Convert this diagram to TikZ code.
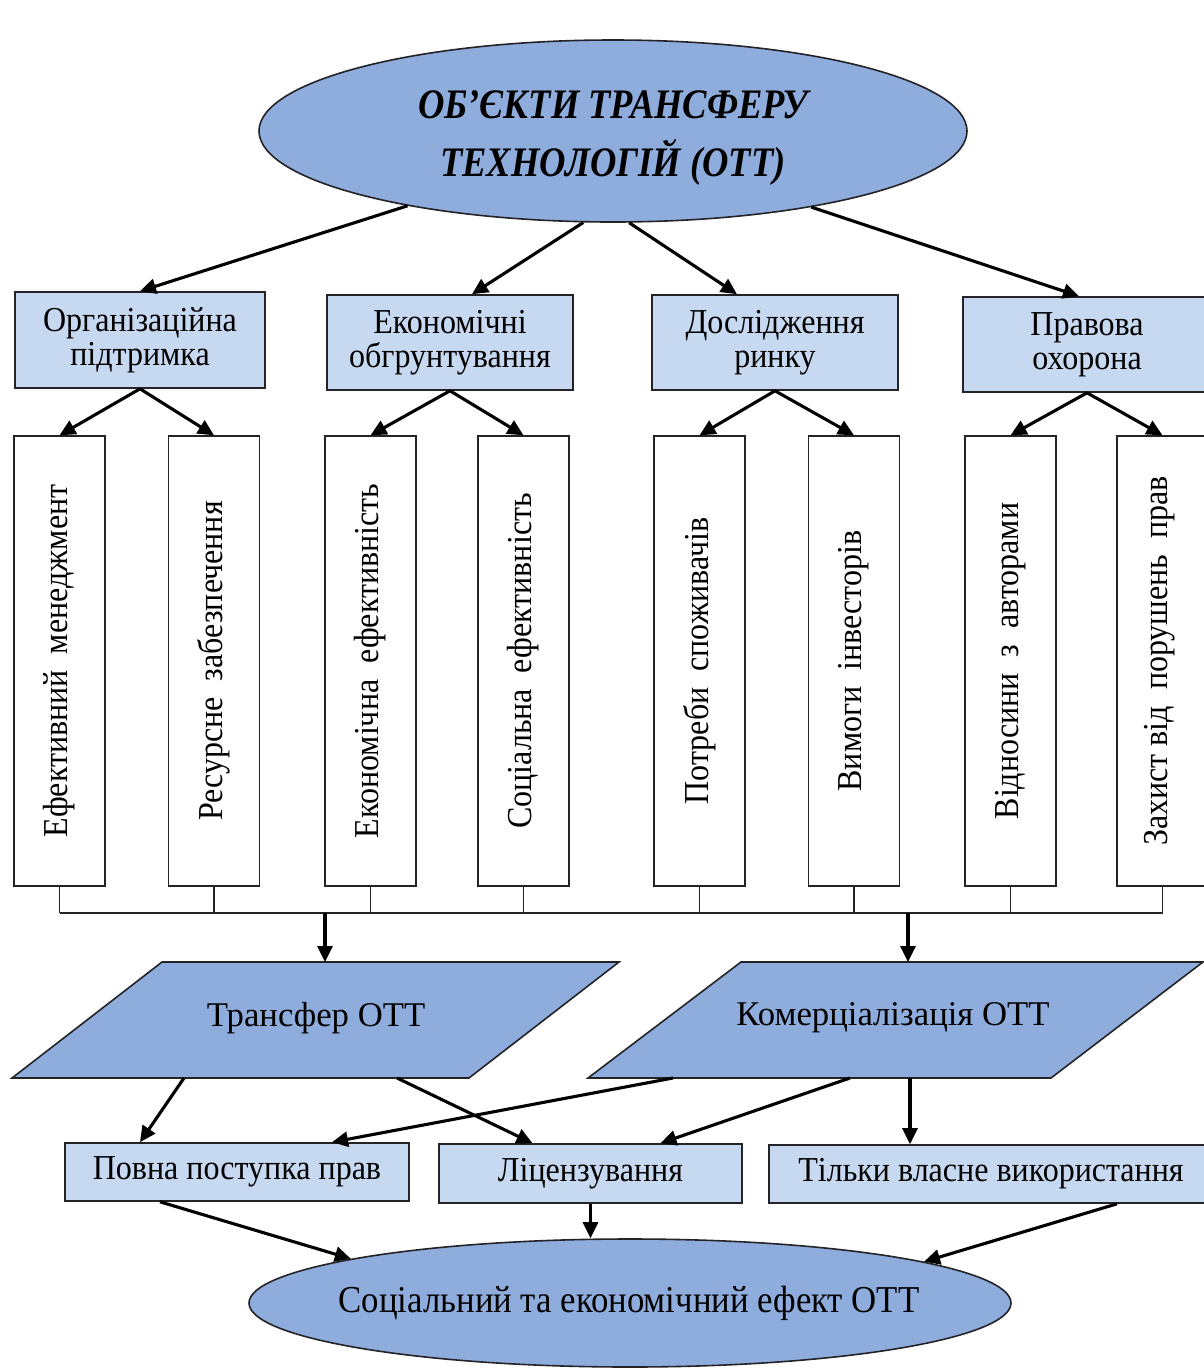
\documentclass[tikz,border=0pt]{standalone}
\usepackage{fontspec}
\setmainfont{Liberation Serif}
\newfontfamily\bodyf[FakeStretch=0.915]{Liberation Serif}
\newfontfamily\titlefont[FakeStretch=0.87]{Liberation Serif}
\usetikzlibrary{arrows.meta,shapes.geometric,calc}
\definecolor{ellblue}{RGB}{142,172,220}
\definecolor{boxblue}{RGB}{198,217,240}
\definecolor{edge}{RGB}{35,35,40}
\begin{document}
\begin{tikzpicture}[x=1pt,y=-1pt,
  every node/.style={font=\bodyf\fontsize{35}{34}\selectfont, text=black},
  ell/.style={ellipse, draw=edge, line width=1.6pt, fill=ellblue, inner sep=0pt},
  topbox/.style={rectangle, draw=edge, line width=1.6pt, fill=boxblue, align=center, inner sep=0pt},
  vbox/.style={rectangle, draw=edge, line width=1.4pt, fill=white, minimum width=91pt, minimum height=450pt, inner sep=0pt},
  vtxt/.style={rotate=90},
  paratxt/.style={font=\rmfamily\fontsize{34.7}{36}\selectfont},
  bottxt/.style={font=\bodyf\fontsize{38}{40}\selectfont},
  para/.style={draw=edge, line width=1.6pt, fill=ellblue, line join=miter},
  arr/.style={-{Triangle[length=16pt,width=15pt]}, line width=3.1pt, draw=black},
  bus/.style={line width=1.3pt, draw=edge},
]
\useasboundingbox (0,0) rectangle (1203,1369);
\fill[white] (0,0) rectangle (1203,1369);

% top ellipse
\node[ell, minimum width=708pt, minimum height=182pt] (top) at (613,131) {};
\node[font=\titlefont\bfseries\itshape\fontsize{42}{58}\selectfont, align=center] (ttl) at (613,138)
  {ОБ’ЄКТИ ТРАНСФЕРУ\\ТЕХНОЛОГІЙ (ОТТ)};

% second level boxes
\node[topbox, minimum width=250pt, minimum height=96pt] (b1) at (140,340) {Організаційна\\підтримка};
\node[topbox, minimum width=246pt, minimum height=95pt] (b2) at (450,342.5) {Економічні\\обгрунтування};
\node[topbox, minimum width=246pt, minimum height=95pt] (b3) at (775,342.5) {Дослідження\\ринку};
\node[topbox, minimum width=248pt, minimum height=95pt] (b4) at (1087,344.5) {Правова\\охорона};

% vertical boxes
\node[vbox] (v1) at (59.5,661) {};
\node[vbox] (v2) at (214,661) {};
\node[vbox] (v3) at (370.5,661) {};
\node[vbox] (v4) at (523.5,661) {};
\node[vbox] (v5) at (699.5,661) {};
\node[vbox] (v6) at (854,661) {};
\node[vbox] (v7) at (1010.5,661) {};
\node[vbox] (v8) at (1162.5,661) {};
\node[vtxt] (t1) at (v1) {Ефективний\ \ менеджмент};
\node[vtxt] (t2) at (v2) {Ресурсне\ \ забезпечення};
\node[vtxt] (t3) at (v3) {Економічна\ \ ефективність};
\node[vtxt] (t4) at (v4) {Соціальна\ \ ефективність};
\node[vtxt] (t5) at (v5) {Потреби\ \ споживачів};
\node[vtxt] (t6) at (v6) {Вимоги\ \ інвесторів};
\node[vtxt] (t7) at (v7) {Відносини\ \ з\ \ авторами};
\node[vtxt] (t8) at (1160,661) {Захист\ від\ \ порушень\ \ прав};

% arrows from top ellipse
\draw[arr] (top.200.5) -- (b1.north);
\draw[arr] (top.252.5) -- ($(b2.north)+(22,0)$);
\draw[arr] (top.280.2) -- ($(b3.north)+(-38,0)$);
\draw[arr] (top.339.4) -- ($(b4.north)+(-8,0)$);

% arrows to vertical boxes
\draw[arr] (b1.south) -- (v1.north);
\draw[arr] (b1.south) -- (v2.north);
\draw[arr] (b2.south) -- (v3.north);
\draw[arr] (b2.south) -- (v4.north);
\draw[arr] (b3.south) -- (v5.north);
\draw[arr] (b3.south) -- (v6.north);
\draw[arr] (b4.south) -- (v7.north);
\draw[arr] (b4.south) -- (v8.north);

% bus
\coordinate (busy) at (0,913);
\foreach \v in {v1,v2,v3,v4,v5,v6,v7,v8}
  \draw[bus] (\v.south) -- (\v.south |- busy);
\draw[bus] (v1.south |- busy) -- (v8.south |- busy);

% parallelograms
\coordinate (trTL) at (162,962);
\coordinate (trTR) at (619,962);
\coordinate (trBR) at (469,1078);
\coordinate (trBL) at (12,1078);
\filldraw[para] (trTL) -- (trTR) -- (trBR) -- (trBL) -- cycle;
\node[paratxt] (tr) at (316,1018) {Трансфер ОТТ};
\coordinate (coTL) at (741,962);
\coordinate (coTR) at (1203,962);
\coordinate (coBR) at (1051,1078);
\coordinate (coBL) at (588,1078);
\filldraw[para] (coTL) -- (coTR) -- (coBR) -- (coBL) -- cycle;
\node[paratxt] (co) at (893,1018) {Комерціалізація ОТТ};

% arrows from bus
\coordinate (busA) at (325,913);
\coordinate (busB) at (908,913);
\draw[arr] (busA) -- (busA |- trTL);
\draw[arr] (busB) -- (busB |- coTL);

% bottom boxes
\node[topbox, minimum width=344pt, minimum height=58pt] (p1) at (237,1172) {Повна поступка прав};
\node[topbox, minimum width=303pt, minimum height=59pt] (p2) at (590.5,1173.5) {Ліцензування};
\node[topbox, minimum width=444pt, minimum height=58pt] (p3) at (991,1174) {Тільки власне використання};

% arrows from parallelograms
\coordinate (trA) at (184,1078);
\coordinate (trB) at (397,1078);
\coordinate (coA) at (673,1078);
\coordinate (coB) at (850,1078);
\coordinate (coC) at (910,1078);
\draw[arr] (trA) -- ($(p1.north)+(-97,0)$);
\draw[arr] (trB) -- ($(p2.north)+(-58,0)$);
\draw[arr] (coA) -- ($(p1.north)+(95,0)$);
\draw[arr] (coB) -- ($(p2.north)+(70,0)$);
\draw[arr] (coC) -- (coC |- p3.north);

% bottom ellipse
\node[ell, minimum width=762pt, minimum height=128pt] (bot) at (630,1303) {};
\node[bottxt] (bott) at (629,1303) {Соціальний та економічний ефект ОТТ};
\draw[arr] ($(p1.south)+(-77,0)$) -- (bot.171);
\draw[arr] (p2.south) -- (p2.south |- bot.north);
\draw[arr] ($(p3.south)+(126,0)$) -- (bot.8.5);
\end{tikzpicture}
\end{document}
